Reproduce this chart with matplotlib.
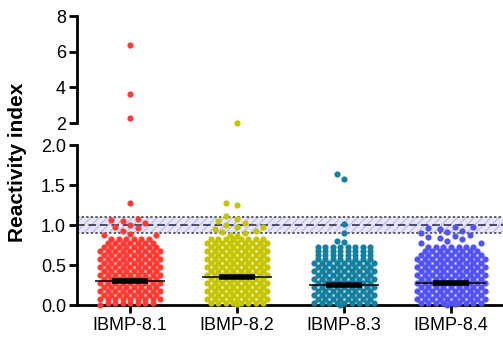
import numpy as np
import matplotlib.pyplot as plt

plt.rcParams['font.family'] = ['Liberation Sans', 'DejaVu Sans']
plt.rcParams['hatch.linewidth'] = 0.8

groups = ['IBMP-8.1', 'IBMP-8.2', 'IBMP-8.3', 'IBMP-8.4']
colors = ['#FF3A33', '#C4C400', '#13809F', '#5252F5']

# dense part of each swarm: number of dots per 0.05-wide row, rows start at 0.025
red_rows = [7, 9, 8, 9, 8, 9, 8, 9, 8, 9, 8, 9, 8, 9, 8, 7, 6]
yellow_rows = [8, 9, 8, 9, 8, 9, 8, 9, 8, 9, 8, 9, 8, 9, 8, 9, 8]
teal_rows = [9, 8, 9, 8, 9, 8, 9, 8, 9, 8, 9, 8, 8, 8, 8]
blue_rows = [9, 10, 9, 10, 9, 10, 9, 10, 9, 10, 9, 10, 9, 8, 7]

# loose dots outside the dense block
red_sparse = [0.0, 0.87, 0.88, 0.89, 0.93, 0.96, 0.97, 1.0, 1.03, 1.05, 1.06, 1.07, 1.27]
yellow_sparse = [0.01, 0.86, 0.88, 0.9, 0.91, 0.93, 0.95, 0.97, 0.98, 1.0, 1.02,
                 1.05, 1.08, 1.11, 1.25, 1.27]
teal_sparse = [0.0, 0.79, 0.8, 0.9, 1.01, 1.57, 1.64]
blue_sparse = [0.0, 0.01, 0.77, 0.78, 0.8, 0.82, 0.84, 0.85, 0.86, 0.88, 0.9,
               0.91, 0.93, 0.95, 0.96, 0.97, 0.97]

# values above the axis break
red_high = [2.3, 3.65, 6.4]
yellow_high = [2.02]
teal_high = []
blue_high = []

medians = [0.30, 0.355, 0.255, 0.27]

rows_all = [red_rows, yellow_rows, teal_rows, blue_rows]
sparse_all = [red_sparse, yellow_sparse, teal_sparse, blue_sparse]
high_all = [red_high, yellow_high, teal_high, blue_high]

fig = plt.figure(figsize=(5.03, 3.37), dpi=100)
ax_top = fig.add_axes([77 / 503, 1 - 123 / 337, 1 - 77 / 503, (123 - 16) / 337])
ax = fig.add_axes([77 / 503, 1 - 305 / 337, 1 - 77 / 503, (305 - 145) / 337])

px_x = 107.0   # pixels per group
px_y = 80.0    # pixels per unit in lower panel
step = 7.5     # horizontal dot spacing, px

for i in range(4):
    xs, ys = [], []
    for r, n in enumerate(rows_all[i]):
        y = 0.025 + 0.05 * r
        for k in range(n):
            xs.append((k - (n - 1) / 2) * step)
            ys.append(y)
    placed = list(zip(xs, ys))
    half = (max(rows_all[i]) - 1) / 2 * step
    cands = np.arange(-half, half + 0.01, step / 2)
    cands = cands[np.argsort(np.abs(cands), kind='stable')]
    for v in sorted(sparse_all[i]):
        best, best_d = 0.0, -1
        for off in cands:
            d = min(np.hypot(off - px, (v - py) * px_y) for px, py in placed)
            if d >= 8:
                best = off
                break
            if d > best_d:
                best, best_d = off, d
        placed.append((best, v))
        xs.append(best)
        ys.append(v)
    ax.scatter(i + np.array(xs) / px_x, ys, s=20, color=colors[i], lw=0,
               clip_on=False, zorder=3)
    if high_all[i]:
        ax_top.scatter([i] * len(high_all[i]), high_all[i], s=20, color=colors[i],
                       lw=0, clip_on=False, zorder=3)
    ax.hlines(medians[i], i - 0.33, i + 0.33, color='black', lw=1.1, zorder=4)
    ax.hlines(medians[i], i - 0.17, i + 0.17, color='black', lw=4, zorder=4)

# reference band
ax.axhspan(0.9, 1.1, facecolor='#E6E6FA', edgecolor='#B8B8EC', hatch='////',
           lw=0, zorder=1)
ax.axhline(1.0, color='#222244', lw=1.1, ls=(0, (5, 2.5)), zorder=2)
ax.axhline(0.9, color='#333333', lw=1.1, ls=(0, (1.5, 1.5)), zorder=2)
ax.axhline(1.1, color='#333333', lw=1.1, ls=(0, (1.5, 1.5)), zorder=2)

xlim = (-53 / px_x, (503 - 77 - 53) / px_x)
for a in (ax, ax_top):
    a.set_xlim(*xlim)
    a.spines['right'].set_visible(False)
    a.spines['top'].set_visible(False)
    a.spines['left'].set_linewidth(2)
    a.spines['bottom'].set_linewidth(2)
    a.tick_params(axis='y', length=6, width=2, labelsize=13, pad=2)
    a.set_facecolor('none')

ax.set_ylim(0, 2.0)
ax.set_yticks([0.0, 0.5, 1.0, 1.5, 2.0])
ax.set_yticklabels(['0.0', '0.5', '1.0', '1.5', '2.0'])
ax.set_xticks(range(4))
ax.set_xticklabels(groups)
ax.tick_params(axis='x', length=6, width=2, labelsize=13, pad=3)

ax_top.set_ylim(2, 8)
ax_top.set_yticks([2, 4, 6, 8])
ax_top.spines['bottom'].set_visible(False)
ax_top.set_xticks([])

fig.text(18 / 503, 1 - 162 / 337, 'Reactivity index', rotation=90, ha='center',
         va='center', fontsize=15, fontweight='bold')

fig.savefig('out.png', dpi=100)
